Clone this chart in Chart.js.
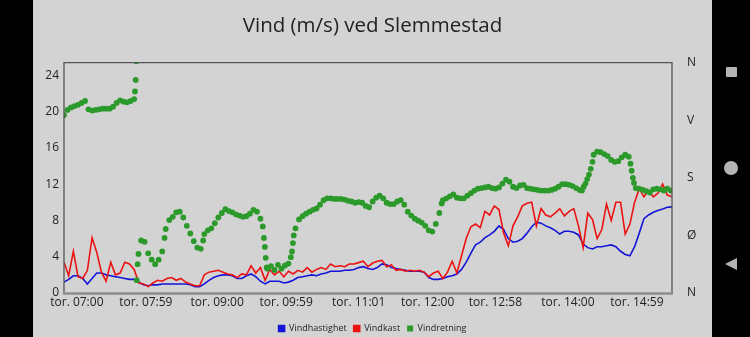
<!DOCTYPE html>
<html><head><meta charset="utf-8">
<script src="https://cdn.jsdelivr.net/npm/chart.js@4.4.1/dist/chart.umd.min.js"></script>
<style>
html,body{margin:0;padding:0;background:#000;width:750px;height:337px;overflow:hidden;}
#panel{position:absolute;left:33px;top:0;width:679px;height:337px;background:#d3d3d3;overflow:hidden;}
#c{position:absolute;left:0;top:0;}
#sq{position:absolute;left:726px;top:67px;width:11px;height:10px;background:#b4b4b4;border-radius:1px;}
#ci{position:absolute;left:724px;top:161px;width:14px;height:14px;background:#b4b4b4;border-radius:50%;}
#tr{position:absolute;left:725px;top:258px;width:0;height:0;border-top:6.5px solid transparent;border-bottom:6.5px solid transparent;border-right:12px solid #b4b4b4;}
</style></head>
<body>
<div id="panel"><canvas id="c" width="679" height="343"></canvas></div>
<div id="sq"></div><div id="ci"></div><div id="tr"></div>
<script>
// x values are minutes since midnight
const speedTimes = [409,413,417,421,425,429,433,437,441,445,449,453,457,461,465,469,473,477,481,485,489,493,497,501,505,509,513,517,521,525,529,533,537,541,545,549,553,557,561,565,569,573,577,581,585,589,593,597,601,605,609,613,617,621,625,629,633,637,641,645,649,653,657,661,665,669,673,677,681,685,689,693,697,701,705,709,713,717,721,725,729,733,737,741,745,749,753,757,761,765,769,773,777,781,785,789,793,797,801,805,809,813,817,821,825,829,833,837,841,845,849,853,857,861,865,869,873,877,881,885,889,893,897,901,905,909,913,917,921,925,929];
const vindhastighet = [1.2,1.5,1.9,1.9,1.6,1.0,1.6,2.2,2.2,2.0,
1.9,1.8,1.7,1.6,1.5,1.5,1.2,0.9,0.8,0.9,
0.9,1.0,1.0,1.0,1.0,1.0,1.0,0.9,0.7,0.7,
1.0,1.4,1.7,1.9,2.0,2.0,1.9,1.6,1.6,1.9,
2.1,1.8,1.3,1.0,1.3,1.3,1.3,1.1,1.2,1.4,
1.7,1.8,1.9,2.0,1.9,2.1,2.2,2.4,2.4,2.4,
2.5,2.5,2.6,2.8,2.9,2.7,2.6,2.8,3.2,3.1,
2.8,2.7,2.6,2.5,2.4,2.4,2.4,2.3,1.7,1.5,
1.5,1.6,1.8,1.9,2.1,2.6,3.4,4.4,5.3,5.6,
6.1,6.4,6.8,7.4,7.0,6.0,5.6,5.7,6.0,6.6,
7.3,7.8,7.7,7.4,7.2,6.9,6.5,6.8,6.8,6.7,
6.4,5.4,5.0,4.85,5.1,5.1,5.2,5.3,5.1,4.6,
4.25,4.1,5.1,6.6,8.2,8.6,8.9,9.1,9.25,9.45,
9.5];
const vindkast = [3.4,1.9,4.6,1.8,1.6,2.5,6.1,4.5,2.3,1.3,
3.4,2.0,2.2,3.4,3.2,2.6,1.1,1.0,0.7,1.1,
1.4,1.3,1.6,1.7,1.4,1.6,1.2,1.0,0.8,0.8,
2.0,2.3,2.4,2.5,2.3,2.1,2.0,1.7,2.1,2.0,
3.0,2.2,2.8,1.4,2.6,2.0,2.4,1.8,2.4,2.1,
2.5,2.3,2.8,2.3,2.6,2.8,2.6,3.2,2.9,3.0,
2.9,3.2,3.2,3.35,3.5,2.9,3.3,3.5,3.6,2.9,
3.1,2.5,2.6,2.4,2.5,2.4,2.5,2.3,1.8,2.2,
2.4,1.6,2.3,3.5,2.2,4.1,6.0,7.3,7.6,7.2,
9.0,8.6,9.6,9.2,6.6,5.2,7.4,8.4,9.6,9.9,
10.0,7.4,9.3,8.6,8.4,8.8,9.3,8.5,9.0,9.3,
7.4,5.0,8.8,8.1,6.0,7.0,9.8,8.0,10.0,10.0,
6.5,7.6,10.0,11.5,10.6,11.3,10.6,11.0,12.0,10.8,
10.6];
const dirTimes = [409,412,415,418,421,424,427,430,433,436,439,442,445,448,451,454,457,460,463,466,469,469.7,470.3,470.8,471.2,472,472.7,475,478,481,484,487,490,493,495,496,499,502,505,508,511,514,517,520,523,526,528,529,532,535,538,541,544,547,550,553,556,559,562,565,568,571,574,577,579,580,580.8,581.5,582.3,583,586,589,592,595,598,601,603,604,604.8,605.5,607,610,613,616,619,622,625,628,631,634,637,640,643,646,649,652,655,658,661,664,667,670,673,676,679,682,685,688,691,694,697,700,703,706,709,712,715,718,721,724,727,730,732,733,736,739,742,745,748,751,754,757,760,763,766,769,772,775,778,781,784,787,790,793,796,799,802,805,808,811,814,817,820,823,826,829,832,835,838,841,844,847,850,852,853.5,855,856.5,858,859.5,861,862,865,868,871,874,877,880,883,886,889,892,893.5,894.5,895.5,896.5,898,901,904,907,910,913,916,919,922,925,928];
const vindretning = [278,286,290,292,294,297,300,287,285,286,287,288,288,288,291,297,301,299,298,300,303,315,333,362,20,45,61,82,80,62,52,45,52,65,86,100,114,119,126,127,118,105,93,81,71,69,82,92,98,101,109,118,125,131,128,126,123,121,119,120,124,130,127,116,104,86,72,55,40,38,42,36,44,38,43,46,56,65,78,90,101,115,120,124,127,130,132,138,145,148,148,147,147,147,146,144,143,141,142,141,136,134,143,149,152,148,141,139,139,143,145,138,127,121,116,113,110,105,98,96,108,125,140,145,148,151,154,149,148,148,152,156,160,163,164,165,166,164,163,165,171,177,174,166,164,168,169,164,163,162,161,160,160,160,161,163,166,170,170,169,167,164,161,160,166,171,178,185,194,205,216,221,220,217,214,208,205,206,212,216,213,202,191,180,172,164,163,161,159,157,162,163,162,160,163,160];
const tickTimes = [420,479,540,599,661,720,778,840,899];
const tickLabels = ['tor. 07:00','tor. 07:59','tor. 09:00','tor. 09:59','tor. 11:01','tor. 12:00','tor. 12:58','tor. 14:00','tor. 14:59'];
const leftTicks = [0,4,8,12,16,20,24];
const dirLabels = ['N','Ø','S','V','N'];

const FONT = "'Open Sans', sans-serif";
const frame = {
  id:'frame',
  afterDatasetsDraw(chart){
    const a = chart.chartArea, c = chart.ctx;
    c.save();
    c.strokeStyle = '#555'; c.lineWidth = 1.3;
    c.beginPath();
    c.moveTo(a.left, a.bottom); c.lineTo(a.left, a.top); c.lineTo(a.right, a.top); c.lineTo(a.right, a.bottom);
    c.stroke();
    c.strokeStyle = '#8c8c8c'; c.lineWidth = 2.5;
    c.beginPath(); c.moveTo(a.left-1, a.bottom+0.5); c.lineTo(a.right+1, a.bottom+0.5); c.stroke();
    c.restore();
  }
};

new Chart(document.getElementById('c'), {
  data: {
    datasets: [
      {type:'line', label:'Vindhastighet', data: speedTimes.map((t,i)=>({x:t,y:vindhastighet[i]})),
       borderColor:'#1414d8', backgroundColor:'#1414d8', borderWidth:1.6, pointRadius:0, tension:0, yAxisID:'y', order:2},
      {type:'line', label:'Vindkast', data: speedTimes.map((t,i)=>({x:t,y:vindkast[i]})),
       borderColor:'#ec1212', backgroundColor:'#ec1212', borderWidth:1.6, pointRadius:0, tension:0, yAxisID:'y', order:1},
      {type:'line', label:'Vindretning', data: dirTimes.map((t,i)=>({x:t,y:vindretning[i]})),
       showLine:false, borderColor:'#2b9a2b', backgroundColor:'#2b9a2b', borderWidth:0, pointRadius:2.9, pointBorderWidth:0, yAxisID:'y2', order:0}
    ]
  },
  options: {
    responsive:false, animation:false, devicePixelRatio:1,
    layout:{padding:0},
    plugins:{
      title:{display:true, text:'Vind (m/s) ved Slemmestad', color:'#222', font:{family:FONT, size:20.5, weight:'normal'}, padding:{top:14,bottom:24}},
      legend:{position:'bottom', labels:{color:'#222', font:{family:FONT, size:9}, boxWidth:6, boxHeight:6, padding:7,
        sort:(a,b)=>a.datasetIndex-b.datasetIndex}},
      tooltip:{enabled:false}
    },
    scales:{
      x:{type:'linear', min:409, max:929, grid:{display:false, drawTicks:false}, border:{display:false},
         afterBuildTicks:(s)=>{s.ticks = tickTimes.map(v=>({value:v}));},
         afterFit:(s)=>{s.height = 24;},
         ticks:{autoSkip:false, maxRotation:0, padding:2, color:'#222', font:{family:FONT, size:12},
           callback:(v)=>{const i = tickTimes.indexOf(v); return i<0 ? '' : tickLabels[i];}}},
      y:{type:'linear', position:'left', min:0, max:25.4, grid:{display:false, drawTicks:false}, border:{display:false},
         afterBuildTicks:(s)=>{s.ticks = leftTicks.map(v=>({value:v}));},
         afterFit:(s)=>{s.width = 31;},
         ticks:{padding:5, color:'#222', font:{family:FONT, size:12}}},
      y2:{type:'linear', position:'right', min:0, max:360, grid:{display:false, drawTicks:false}, border:{display:false},
         afterBuildTicks:(s)=>{s.ticks = [0,90,180,270,360].map(v=>({value:v}));},
         afterFit:(s)=>{s.width = 40;},
         ticks:{padding:15, color:'#222', font:{family:FONT, size:12}, callback:(v)=>dirLabels[Math.round(v/90)]}}
    }
  },
  plugins:[frame]
});
</script>
</body></html>
